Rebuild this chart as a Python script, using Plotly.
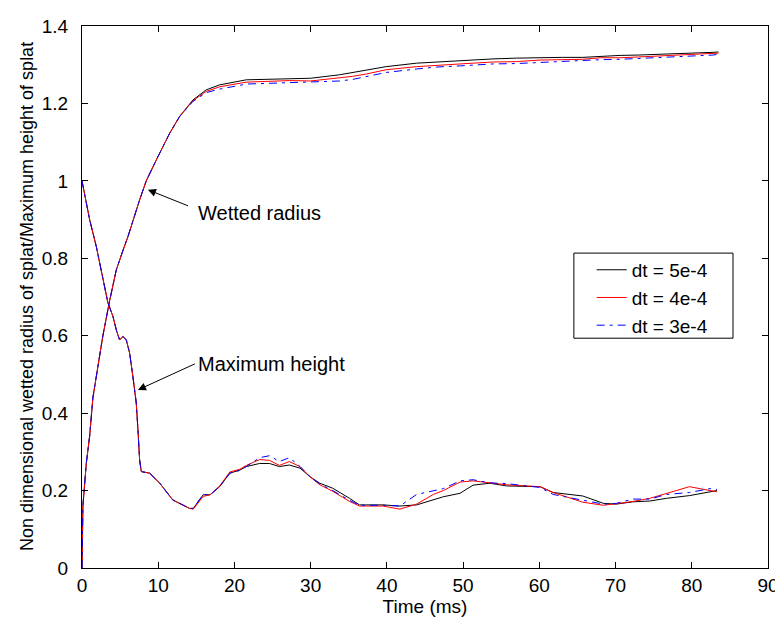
import plotly.graph_objects as go

# Wetted radius data
t_r = [0, 0.12, 0.56, 1.0, 1.43, 2.09, 2.74, 3.62, 4.5, 5.37, 6.03, 7.56, 8.43, 9.75, 11.5, 12.8,
       14.55, 16.3, 18.06, 21.56, 24.5, 27.2, 30, 33.8, 35.5, 37.3, 39.9, 43.9, 46.5, 49.6, 53.9,
       57, 60.1, 63, 65.7, 68, 70.6, 73, 76.7, 80, 82.8, 83.5]
r_5e4 = [0, 0.16, 0.27, 0.34, 0.44, 0.52, 0.60, 0.69, 0.77, 0.82, 0.856, 0.951, 1.0, 1.054, 1.123, 1.166,
         1.209, 1.235, 1.248, 1.261, 1.263, 1.265, 1.265, 1.274, 1.28, 1.287, 1.295, 1.304, 1.307, 1.311, 1.315,
         1.317, 1.319, 1.319, 1.319, 1.322, 1.324, 1.325, 1.327, 1.329, 1.332, 1.333]
r_4e4 = [0, 0.16, 0.27, 0.34, 0.44, 0.52, 0.60, 0.69, 0.77, 0.82, 0.856, 0.951, 1.0, 1.054, 1.123, 1.166,
         1.207, 1.231, 1.243, 1.255, 1.258, 1.259, 1.258, 1.265, 1.27, 1.276, 1.287, 1.295, 1.299, 1.302, 1.307,
         1.308, 1.312, 1.313, 1.314, 1.318, 1.318, 1.32, 1.323, 1.326, 1.329, 1.33]
r_3e4 = [0, 0.16, 0.27, 0.34, 0.44, 0.52, 0.60, 0.69, 0.77, 0.82, 0.856, 0.951, 1.0, 1.054, 1.123, 1.166,
         1.205, 1.228, 1.237, 1.25, 1.252, 1.254, 1.255, 1.258, 1.262, 1.27, 1.28, 1.289, 1.294, 1.297, 1.302,
         1.303, 1.306, 1.309, 1.31, 1.313, 1.314, 1.316, 1.319, 1.322, 1.325, 1.327]

# Maximum height data
t_h = [0, 1.0, 1.88, 2.74, 3.4, 4.06, 4.5, 4.93, 5.37, 5.81, 6.25, 6.68, 7.12, 7.34, 7.56, 7.78, 8.87,
       10.2, 11.9, 14.1, 14.6, 15.9, 16.8, 18.06, 19.4, 20.7, 21.56, 23.3, 24.6, 25.9, 27.2, 28.6, 29.9,
       31.2, 32.9, 35.1, 36.4, 39.5, 41.7, 43.9, 46.1, 47.4, 49.6, 51.3, 53.5, 55.7, 60.1, 61.8, 65.7,
       68.4, 70.1, 72.3, 74.5, 76.7, 79.7, 82.4, 83.3]
h_5e4 = [1.0, 0.9, 0.83, 0.744, 0.685, 0.65, 0.615, 0.589, 0.598, 0.589, 0.555, 0.494, 0.426, 0.357, 0.279,
         0.249, 0.245, 0.219, 0.176, 0.154, 0.154, 0.189, 0.189, 0.21, 0.245, 0.253, 0.262, 0.27, 0.27, 0.262,
         0.266, 0.258, 0.236, 0.219, 0.206, 0.18, 0.163, 0.163, 0.16, 0.163, 0.176, 0.184, 0.193, 0.214, 0.219,
         0.212, 0.21, 0.195, 0.186, 0.167, 0.165, 0.171, 0.173, 0.18, 0.187, 0.197, 0.2]
h_4e4 = [1.0, 0.9, 0.83, 0.744, 0.685, 0.65, 0.615, 0.589, 0.598, 0.589, 0.555, 0.494, 0.426, 0.357, 0.279,
         0.249, 0.245, 0.219, 0.176, 0.154, 0.152, 0.185, 0.189, 0.212, 0.248, 0.255, 0.265, 0.28, 0.278, 0.265,
         0.275, 0.262, 0.236, 0.215, 0.198, 0.172, 0.16, 0.16, 0.152, 0.165, 0.19, 0.2, 0.222, 0.225, 0.22,
         0.215, 0.21, 0.195, 0.17, 0.162, 0.166, 0.172, 0.18, 0.192, 0.21, 0.2, 0.197]
h_3e4 = [1.0, 0.9, 0.83, 0.744, 0.685, 0.65, 0.615, 0.589, 0.598, 0.589, 0.555, 0.494, 0.426, 0.357, 0.279,
         0.249, 0.245, 0.219, 0.176, 0.154, 0.154, 0.19, 0.189, 0.21, 0.245, 0.252, 0.262, 0.285, 0.29, 0.275,
         0.285, 0.262, 0.236, 0.217, 0.2, 0.175, 0.162, 0.162, 0.16, 0.19, 0.2, 0.205, 0.225, 0.228, 0.22,
         0.218, 0.208, 0.19, 0.175, 0.165, 0.167, 0.178, 0.178, 0.19, 0.195, 0.205, 0.203]

x_ticks = [0, 10, 20, 30, 40, 50, 60, 70, 80, 90]
y_ticks = [0, 0.2, 0.4, 0.6, 0.8, 1, 1.2, 1.4]
y_ticktext = ["0", "0.2", "0.4", "0.6", "0.8", "1", "1.2", "1.4"]
y_title = "Non dimensional wetted radius of splat/Maximum height of splat"

series = [
    ("dt = 5e-4", r_5e4, h_5e4, "black", "solid"),
    ("dt = 4e-4", r_4e4, h_4e4, "red", "solid"),
    ("dt = 3e-4", r_3e4, h_3e4, "blue", "8px,5px,3px,5px"),
]

fig = go.Figure()
for name, r, h, color, dash in series:
    fig.add_trace(go.Scatter(x=t_r, y=r, mode="lines", name=name, legendgroup=name,
                             line=dict(color=color, width=1, dash=dash)))
    fig.add_trace(go.Scatter(x=t_h, y=h, mode="lines", name=name, legendgroup=name, showlegend=False,
                             line=dict(color=color, width=1, dash=dash)))

fam = "Liberation Sans, Arial, sans-serif"
tick_font = dict(family=fam, size=19, color="black")
ann_font = dict(family=fam, size=20, color="black")
leg_font = dict(family=fam, size=19, color="black")

fig.add_annotation(x=8.65, y=0.977, ax=14.1, ay=0.934, xref="x", yref="y", axref="x", ayref="y",
                   text="", showarrow=True, arrowhead=2, arrowsize=1.6, arrowwidth=1, arrowcolor="black")
fig.add_annotation(x=15.0, y=0.917, xref="x", yref="y", text="Wetted radius", showarrow=False,
                   xanchor="left", yanchor="middle", font=ann_font)
fig.add_annotation(x=7.34, y=0.46, ax=15.0, ay=0.529, xref="x", yref="y", axref="x", ayref="y",
                   text="", showarrow=True, arrowhead=2, arrowsize=1.6, arrowwidth=1, arrowcolor="black")
fig.add_annotation(x=15.0, y=0.527, xref="x", yref="y", text="Maximum height", showarrow=False,
                   xanchor="left", yanchor="middle", font=ann_font)

# y-axis title as a rotated annotation
fig.add_annotation(x=-0.08, y=0.5, xref="paper", yref="paper", text=y_title, textangle=-90,
                   showarrow=False, xanchor="center", yanchor="middle",
                   font=dict(family=fam, size=18, color="black"))

# legend frame
fig.add_shape(type="rect", xref="paper", yref="paper", x0=0.717, x1=0.949, y0=0.424, y1=0.581,
              line=dict(color="black", width=1), fillcolor="white", layer="below")

axis_common = dict(showline=True, linecolor="black", linewidth=1, mirror="ticks", ticks="inside",
                   ticklen=6, tickcolor="black", showgrid=False, zeroline=False, tickfont=tick_font,
                   automargin=False)

fig.update_layout(
    width=775, height=620,
    margin=dict(l=74, r=15, t=18, b=60),
    paper_bgcolor="white", plot_bgcolor="white",
    font=tick_font,
    xaxis=dict(range=[0, 90], tickvals=x_ticks, ticklabelstandoff=0,
               title=dict(text="Time (ms)", standoff=3, font=dict(family=fam, size=19, color="black")),
               **axis_common),
    yaxis=dict(range=[0, 1.4], tickvals=y_ticks, ticktext=y_ticktext, ticklabelstandoff=9,
               **axis_common),
    legend=dict(x=0.743, y=0.585, xanchor="left", yanchor="top", bgcolor="rgba(0,0,0,0)",
                borderwidth=0, font=leg_font, tracegroupgap=0),
    showlegend=True,
)

fig.write_html("out.html")
